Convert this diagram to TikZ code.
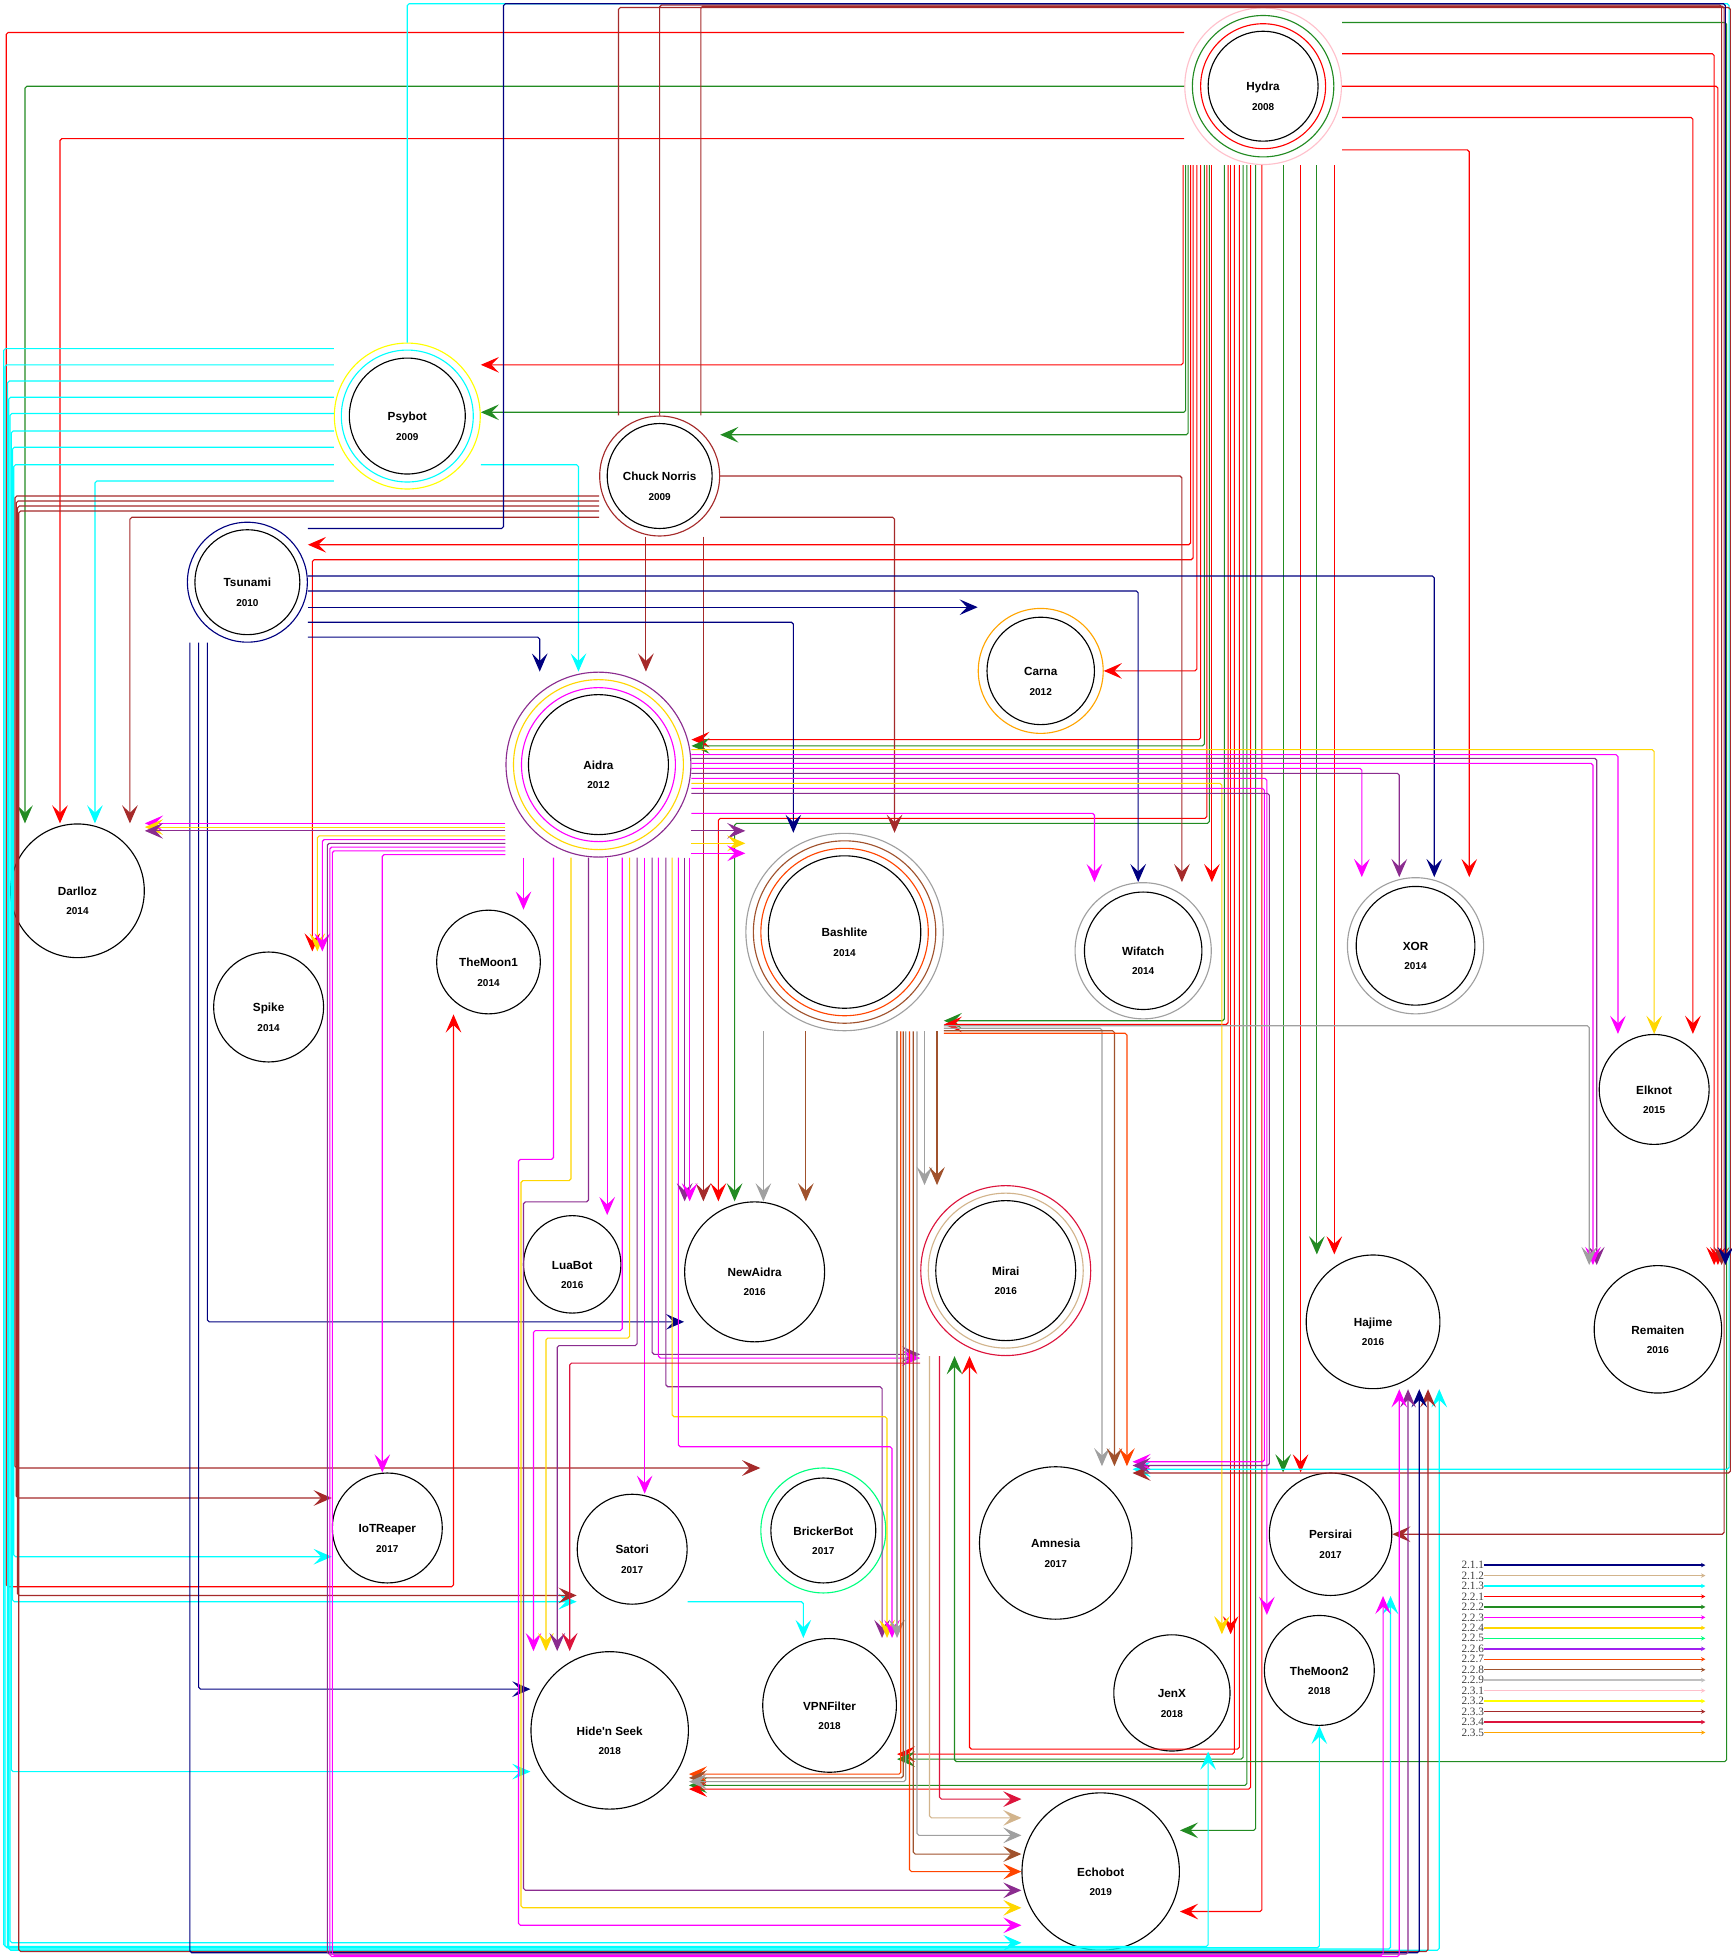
\documentclass[tikz,border=0pt]{standalone}
\usepackage{fontspec}
\setmainfont{Liberation Sans}
\newfontfamily\legfont{Liberation Serif}
\usetikzlibrary{arrows.meta}

\definecolor{cnavy}{HTML}{000080}
\definecolor{ctan}{HTML}{D2B48C}
\definecolor{ccyan}{HTML}{00FFFF}
\definecolor{cred}{HTML}{FF0000}
\definecolor{cgreen}{HTML}{228B22}
\definecolor{cmag}{HTML}{FF00FF}
\definecolor{cgold}{HTML}{FFD700}
\definecolor{cspring}{HTML}{00FF7F}
\definecolor{cviolet}{HTML}{A020F0}
\definecolor{cpurp}{HTML}{8B2C8F}
\definecolor{corred}{HTML}{FF4500}
\definecolor{csienna}{HTML}{A0522D}
\definecolor{cgray}{HTML}{A0A0A0}
\definecolor{csilver}{HTML}{C0C0C0}
\definecolor{cpink}{HTML}{FFC0CB}
\definecolor{cyellow}{HTML}{FFFF00}
\definecolor{cbrown}{HTML}{A52A2A}
\definecolor{ccrimson}{HTML}{DC143C}
\definecolor{corange}{HTML}{FFA500}

\newcommand\botfont{\fontsize{9.4}{11}\selectfont\bfseries}
\newcommand\botlbl[2]{\strut\\[4.5pt]#1\\[4.5pt]{\fontsize{8}{10}\selectfont #2}}

\tikzset{
  botnode/.style={circle, draw, line width=0.9pt, inner sep=0pt, minimum size=#1, align=center, font=\botfont},
  ringline/.style={draw=#1, line width=0.9pt},
  infl/.style={draw, line width=0.9pt, rounded corners=1.5pt, -{Stealth[length=14.5pt,width=12.5pt,inset=6pt]}},
  leglab/.style={anchor=east, inner sep=0pt, font=\legfont\fontsize{9}{9}\selectfont, text=black!75},
  legline/.style={line width=1.2pt, -{Stealth[length=3.5pt,width=3.5pt]}}
}

\begin{document}
\begin{tikzpicture}[x=1pt, y=-1pt]
\useasboundingbox (0,0) rectangle (1386,1568);
\fill[white] (0,0) rectangle (1386,1568);

% bots
\node[botnode=125.4pt, draw=cpink] (hydra) at (1011,69) {\botlbl{Hydra}{2008}};
\draw[ringline=cgreen] (hydra.center) circle[radius=56.6];
\draw[ringline=cred] (hydra.center) circle[radius=50];
\draw[ringline=black] (hydra.center) circle[radius=44];
\node[botnode=116.8pt, draw=cyellow] (psybot) at (326,333) {\botlbl{Psybot}{2009}};
\draw[ringline=ccyan] (psybot.center) circle[radius=52.8];
\draw[ringline=black] (psybot.center) circle[radius=46.4];
\node[botnode=96pt, draw=cbrown] (chuck) at (528,381) {\botlbl{Chuck Norris}{2009}};
\draw[ringline=black] (chuck.center) circle[radius=42];
\node[botnode=96pt, draw=cnavy] (tsunami) at (198,466) {\botlbl{Tsunami}{2010}};
\draw[ringline=black] (tsunami.center) circle[radius=42];
\node[botnode=100pt, draw=corange] (carna) at (833,537) {\botlbl{Carna}{2012}};
\draw[ringline=black] (carna.center) circle[radius=43];
\node[botnode=148pt, draw=cpurp] (aidra) at (479,612) {\botlbl{Aidra}{2012}};
\draw[ringline=cgold] (aidra.center) circle[radius=68];
\draw[ringline=cmag] (aidra.center) circle[radius=61.6];
\draw[ringline=black] (aidra.center) circle[radius=56];
\node[botnode=107pt] (darlloz) at (62,713) {\botlbl{Darlloz}{2014}};
\node[botnode=88pt] (spike) at (215,806) {\botlbl{Spike}{2014}};
\node[botnode=83pt] (moonA) at (391,770) {\botlbl{TheMoon1}{2014}};
\node[botnode=158pt, draw=cgray] (bashlite) at (676,746) {\botlbl{Bashlite}{2014}};
\draw[ringline=csienna] (bashlite.center) circle[radius=73];
\draw[ringline=corred] (bashlite.center) circle[radius=67];
\draw[ringline=black] (bashlite.center) circle[radius=61];
\node[botnode=109pt, draw=cgray] (wifatch) at (915,761) {\botlbl{Wifatch}{2014}};
\draw[ringline=black] (wifatch.center) circle[radius=47];
\node[botnode=109pt, draw=cgray] (xor) at (1133,757) {\botlbl{XOR}{2014}};
\draw[ringline=black] (xor.center) circle[radius=47.5];
\node[botnode=88pt] (elknot) at (1324,872) {\botlbl{Elknot}{2015}};
\node[botnode=78pt] (luabot) at (458,1012) {\botlbl{LuaBot}{2016}};
\node[botnode=112pt] (newaidra) at (604,1018) {\botlbl{NewAidra}{2016}};
\node[botnode=136pt, draw=ccrimson] (mirai) at (805,1017) {\botlbl{Mirai}{2016}};
\draw[ringline=ctan] (mirai.center) circle[radius=62];
\draw[ringline=black] (mirai.center) circle[radius=56];
\node[botnode=107pt] (hajime) at (1099,1058) {\botlbl{Hajime}{2016}};
\node[botnode=102pt] (remaiten) at (1327,1064) {\botlbl{Remaiten}{2016}};
\node[botnode=88pt] (iotreaper) at (310,1223) {\botlbl{IoTReaper}{2017}};
\node[botnode=88pt] (satori) at (506,1240) {\botlbl{Satori}{2017}};
\node[botnode=100pt, draw=cspring] (brickerbot) at (659,1225) {\botlbl{BrickerBot}{2017}};
\draw[ringline=black] (brickerbot.center) circle[radius=42];
\node[botnode=122pt] (amnesia) at (845,1235) {\botlbl{Amnesia}{2017}};
\node[botnode=98pt] (persirai) at (1065,1228) {\botlbl{Persirai}{2017}};
\node[botnode=126pt] (hns) at (488,1385) {\botlbl{Hide\textquotesingle n Seek}{2018}};
\node[botnode=107pt] (vpnfilter) at (664,1365) {\botlbl{VPNFilter}{2018}};
\node[botnode=93pt] (jenx) at (938,1355) {\botlbl{JenX}{2018}};
\node[botnode=88pt] (moonB) at (1056,1337) {\botlbl{TheMoon2}{2018}};
\node[botnode=126pt] (echobot) at (881,1498) {\botlbl{Echobot}{2019}};

% Hydra
\draw[infl, cred] (hydra.west |- 0,26) -| (5,1270) -| (moonA.south -| 363,0);
\draw[infl, cgreen] (hydra.west |- 0,69) -| (darlloz.north -| 20,0);
\draw[infl, cred] (hydra.west |- 0,111) -| (darlloz.north -| 48,0);
\draw[infl, cred] (hydra.south -| 947,0) |- (psybot.east |- 0,292);
\draw[infl, cgreen] (hydra.south -| 949,0) |- (psybot.east |- 0,330);
\draw[infl, cgreen] (hydra.south -| 951,0) |- (chuck.east |- 0,348);
\draw[infl, cred] (hydra.south -| 953,0) |- (tsunami.east |- 0,436);
\draw[infl, cred] (hydra.south -| 955,0) |- (250,448) -- (spike.north -| 250,0);
\draw[infl, cred] (hydra.south -| 958,0) |- (carna.east |- 0,537);
\draw[infl, cred] (hydra.south -| 961,0) |- (aidra.east |- 0,592);
\draw[infl, cgreen] (hydra.south -| 964,0) |- (aidra.east |- 0,597);
\draw[infl, cred] (hydra.south -| 966,0) |- (575,655) -- (newaidra.north -| 575,0);
\draw[infl, cgreen] (hydra.south -| 968,0) |- (588,659) -- (newaidra.north -| 588,0);
\draw[infl, cred] (hydra.south -| 970,0) -- (wifatch.north -| 970,0);
\draw[infl, cgreen] (hydra.south -| 980,0) |- (bashlite.east |- 0,817);
\draw[infl, cred] (hydra.south -| 983,0) |- (bashlite.east |- 0,820);
\draw[infl, cred] (hydra.south -| 985,0) -- (jenx.north -| 985,0);
\draw[infl, cred] (hydra.south -| 988,0) |- (vpnfilter.east |- 0,1404);
\draw[infl, cred] (hydra.south -| 992,0) |- (776,1400) -- (mirai.south -| 776,0);
\draw[infl, cgreen] (hydra.south -| 995,0) |- (vpnfilter.east |- 0,1408);
\draw[infl, cgreen] (hydra.south -| 998,0) |- (hns.east |- 0,1429);
\draw[infl, cred] (hydra.south -| 1001,0) |- (hns.east |- 0,1432);
\draw[infl, cgreen] (hydra.south -| 1005,0) |- (echobot.east |- 0,1465);
\draw[infl, cred] (hydra.south -| 1010,0) |- (echobot.east |- 0,1530);
\draw[infl, cgreen] (hydra.south -| 1027,0) -- (persirai.north -| 1027,0);
\draw[infl, cred] (hydra.south -| 1041,0) -- (persirai.north -| 1041,0);
\draw[infl, cgreen] (hydra.south -| 1054,0) -- (hajime.north -| 1054,0);
\draw[infl, cred] (hydra.south -| 1068,0) -- (hajime.north -| 1068,0);
\draw[infl, cgreen] (hydra.east |- 0,18) -| (1382,1410) -| (mirai.south -| 764,0);
\draw[infl, cred] (hydra.east |- 0,43) -| (remaiten.north -| 1372,0);
\draw[infl, cred] (hydra.east |- 0,69) -| (remaiten.north -| 1375,0);
\draw[infl, cred] (hydra.east |- 0,94) -| (elknot.north -| 1355,0);
\draw[infl, cred] (hydra.east |- 0,120) -| (xor.north -| 1176,0);

% Psybot
\draw[infl, ccyan] (psybot.north) |- (1384,3) |- (amnesia.east |- 0,1176);
\draw[infl, ccyan] (psybot.west |- 0,279) -| (3,1558) -| (jenx.south -| 967,0);
\draw[infl, ccyan] (psybot.west |- 0,292) -| (4,1559) -| (moonB.south -| 1056,0);
\draw[infl, ccyan] (psybot.west |- 0,305) -| (6,1560) -| (persirai.south -| 1113,0);
\draw[infl, ccyan] (psybot.west |- 0,318) -| (7,1561) -| (hajime.south -| 1152,0);
\draw[infl, ccyan] (psybot.west |- 0,331) -| (8,1555) -- (echobot.west |- 0,1555);
\draw[infl, ccyan] (psybot.west |- 0,345) -| (9,1418) -- (hns.west |- 0,1418);
\draw[infl, ccyan] (psybot.west |- 0,358) -| (10,1282) -- (satori.west |- 0,1282);
\draw[infl, ccyan] (psybot.west |- 0,372) -| (11,1246) -- (iotreaper.west |- 0,1246);
\draw[infl, ccyan] (psybot.west |- 0,385) -| (darlloz.north -| 76,0);
\draw[infl, ccyan] (psybot.east |- 0,372) -| (aidra.north -| 463,0);

% Chuck Norris
\draw[infl, cbrown] (chuck.west |- 0,397) -| (12,1175) -- (brickerbot.west |- 0,1175);
\draw[infl, cbrown] (chuck.west |- 0,401) -| (13,1199) -- (iotreaper.west |- 0,1199);
\draw[infl, cbrown] (chuck.west |- 0,405) -| (14,1277) -- (satori.west |- 0,1277);
\draw[infl, cbrown] (chuck.west |- 0,409) -| (15,1562) -| (hajime.south -| 1143,0);
\draw[infl, cbrown] (chuck.west |- 0,414) -| (darlloz.north -| 104,0);
\draw[infl, cbrown] (chuck.north -| 561,0) |- (1380,5) |- (persirai.east |- 0,1228);
\draw[infl, cbrown] (chuck.north -| 528,0) |- (1378,4) -- (remaiten.north -| 1378,0);
\draw[infl, cbrown] (chuck.north -| 495,0) |- (1385,6) |- (amnesia.east |- 0,1179);
\draw[infl, cbrown] (chuck.east) -| (wifatch.north -| 946,0);
\draw[infl, cbrown] (chuck.east |- 0,414) -| (bashlite.north -| 716,0);
\draw[infl, cbrown] (chuck.south -| 517,0) -- (aidra.north -| 517,0);
\draw[infl, cbrown] (chuck.south -| 563,0) -- (newaidra.north -| 563,0);

% Tsunami
\draw[infl, cnavy] (tsunami.east |- 0,423) -| (403,3) -| (remaiten.north -| 1381,0);
\draw[infl, cnavy] (tsunami.east |- 0,461) -| (xor.north -| 1148,0);
\draw[infl, cnavy] (tsunami.east |- 0,473) -| (wifatch.north -| 911,0);
\draw[infl, cnavy] (tsunami.east |- 0,486) -- (carna.west |- 0,486);
\draw[infl, cnavy] (tsunami.east |- 0,498) -| (bashlite.north -| 635,0);
\draw[infl, cnavy] (tsunami.east |- 0,510) -| (aidra.north -| 432,0);
\draw[infl, cnavy] (tsunami.south -| 166,0) |- (newaidra.west |- 0,1058);
\draw[infl, cnavy] (tsunami.south -| 159,0) |- (hns.west |- 0,1352);
\draw[infl, cnavy] (tsunami.south -| 152,0) |- (1136,1563) -- (hajime.south -| 1136,0);

% Aidra, left side
\draw[infl, cmag] (aidra.west |- 0,659) -- (darlloz.east |- 0,659);
\draw[infl, cgold] (aidra.west |- 0,662) -- (darlloz.east |- 0,662);
\draw[infl, cpurp] (aidra.west |- 0,665) -- (darlloz.east |- 0,665);
\draw[infl, cgold] (aidra.west |- 0,669) -| (spike.north -| 254,0);
\draw[infl, cmag] (aidra.west |- 0,672) -| (spike.north -| 258,0);
\draw[infl, cpurp] (aidra.west |- 0,675) -| (262,1564) -| (hajime.south -| 1127,0);
\draw[infl, cmag] (aidra.west |- 0,678) -| (264,1566) -| (hajime.south -| 1120,0);
\draw[infl, cmag] (aidra.west |- 0,681) -| (266,1565) -| (persirai.south -| 1107,0);
\draw[infl, cmag] (aidra.west |- 0,684) -| (iotreaper.north -| 306,0);

% Aidra, bottom side
\draw[infl, cmag] (aidra.south -| 419,0) -- (moonA.north -| 419,0);
\draw[infl, cmag] (aidra.south -| 443,0) |- (415,928) |- (echobot.west |- 0,1541);
\draw[infl, cgold] (aidra.south -| 457,0) |- (417,945) |- (echobot.west |- 0,1527);
\draw[infl, cpurp] (aidra.south -| 471,0) |- (419,962) |- (echobot.west |- 0,1513);
\draw[infl, cmag] (aidra.south -| 486,0) -- (luabot.north -| 486,0);
\draw[infl, cmag] (aidra.south -| 498,0) |- (427,1065) -- (hns.north -| 427,0);
\draw[infl, cgold] (aidra.south -| 504,0) |- (437,1071) -- (hns.north -| 437,0);
\draw[infl, cpurp] (aidra.south -| 510,0) |- (446,1077) -- (hns.north -| 446,0);
\draw[infl, cmag] (aidra.south -| 516,0) -- (satori.north -| 516,0);
\draw[infl, cpurp] (aidra.south -| 522,0) |- (mirai.west |- 0,1084);
\draw[infl, cmag] (aidra.south -| 527,0) |- (mirai.west |- 0,1087);
\draw[infl, cpurp] (aidra.south -| 533,0) |- (706,1110) -- (vpnfilter.north -| 706,0);
\draw[infl, cgold] (aidra.south -| 538,0) |- (710,1134) -- (vpnfilter.north -| 710,0);
\draw[infl, cmag] (aidra.south -| 543,0) |- (714,1158) -- (vpnfilter.north -| 714,0);
\draw[infl, cpurp] (aidra.south -| 548,0) -- (newaidra.north -| 548,0);
\draw[infl, cmag] (aidra.south -| 552,0) -- (newaidra.north -| 552,0);

% Aidra, right side
\draw[infl, cgold] (aidra.east |- 0,600) -| (elknot.north -| 1324,0);
\draw[infl, cmag] (aidra.east |- 0,604) -| (elknot.north -| 1295,0);
\draw[infl, cpurp] (aidra.east |- 0,607) -| (remaiten.north -| 1278,0);
\draw[infl, cmag] (aidra.east |- 0,611) -| (remaiten.north -| 1275,0);
\draw[infl, cmag] (aidra.east |- 0,615) -| (xor.north -| 1090,0);
\draw[infl, cpurp] (aidra.east |- 0,619) -| (xor.north -| 1120,0);
\draw[infl, cmag] (aidra.east |- 0,623) -| (moonB.north -| 1014,0);
\draw[infl, cgold] (aidra.east |- 0,627) -| (jenx.north -| 978,0);
\draw[infl, cmag] (aidra.east |- 0,631) -| (1012,1170) -- (amnesia.east |- 0,1170);
\draw[infl, cpurp] (aidra.east |- 0,635) -| (1016,1173) -- (amnesia.east |- 0,1173);
\draw[infl, cmag] (aidra.east |- 0,651) -| (wifatch.north -| 876,0);
\draw[infl, cpurp] (aidra.east |- 0,665) -- (bashlite.west |- 0,665);
\draw[infl, cgold] (aidra.east |- 0,675) -- (bashlite.west |- 0,675);
\draw[infl, cmag] (aidra.east |- 0,683) -- (bashlite.west |- 0,683);

% Bashlite
\draw[infl, cgray] (bashlite.south -| 611,0) -- (newaidra.north -| 611,0);
\draw[infl, csienna] (bashlite.south -| 645,0) -- (newaidra.north -| 645,0);
\draw[infl, cgray] (bashlite.south -| 718,0) -- (vpnfilter.north -| 718,0);
\draw[infl, corred] (bashlite.south -| 721,0) |- (hns.east |- 0,1420);
\draw[infl, csienna] (bashlite.south -| 723,0) |- (hns.east |- 0,1423);
\draw[infl, cgray] (bashlite.south -| 725,0) |- (hns.east |- 0,1426);
\draw[infl, corred] (bashlite.south -| 728,0) |- (echobot.west |- 0,1498);
\draw[infl, csienna] (bashlite.south -| 731,0) |- (echobot.west |- 0,1484);
\draw[infl, cgray] (bashlite.south -| 734,0) |- (echobot.west |- 0,1469);
\draw[infl, cgray] (bashlite.south -| 740,0) -- (mirai.north -| 740,0);
\draw[infl, csienna] (bashlite.south -| 750,0) -- (mirai.north -| 750,0);
\draw[infl, cgray] (bashlite.east |- 0,821) -| (remaiten.north -| 1272,0);
\draw[infl, cgray] (bashlite.east |- 0,823) -| (amnesia.north -| 882,0);
\draw[infl, csienna] (bashlite.east |- 0,825) -| (amnesia.north -| 892,0);
\draw[infl, corred] (bashlite.east |- 0,827) -| (amnesia.north -| 902,0);

% Mirai, Satori
\draw[infl, ccrimson] (mirai.west |- 0,1091) -| (hns.north -| 456,0);
\draw[infl, ccrimson] (mirai.south -| 752,0) |- (echobot.west |- 0,1440);
\draw[infl, ctan] (mirai.south -| 744,0) |- (echobot.west |- 0,1455);
\draw[infl, ccyan] (satori.east |- 0,1282) -| (vpnfilter.north -| 643,0);

% legend
\foreach \lbl/\col [count=\i from 0] in {2.1.1/cnavy, 2.1.2/ctan, 2.1.3/ccyan, 2.2.1/cred, 2.2.2/cgreen, 2.2.3/cmag, 2.2.4/cgold, 2.2.5/cspring, 2.2.6/cviolet, 2.2.7/corred, 2.2.8/csienna, 2.2.9/csilver, 2.3.1/cpink, 2.3.2/cyellow, 2.3.3/cbrown, 2.3.4/ccrimson, 2.3.5/corange}{
  \node[leglab] (lg\i) at (1188,{1252.7+8.375*\i}) {\lbl};
  \coordinate (lgend\i) at (1365,{1252.7+8.375*\i});
  \draw[legline, \col] (lg\i.east) -- (lgend\i);
}
\end{tikzpicture}
\end{document}
